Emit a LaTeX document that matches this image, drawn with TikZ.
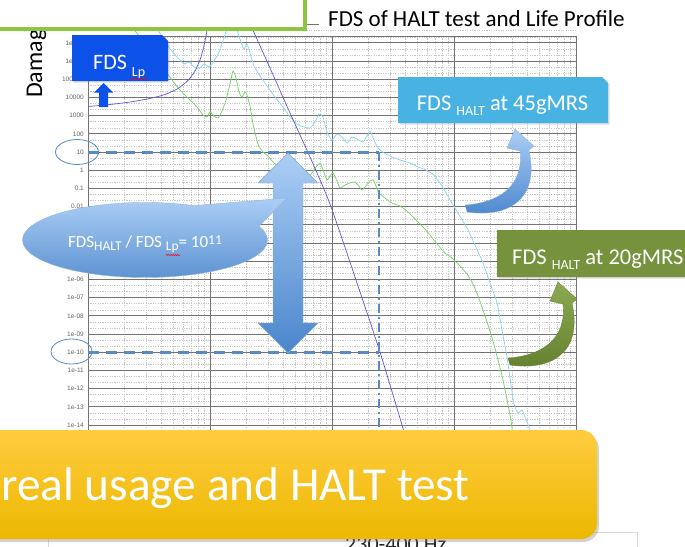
\documentclass[tikz,border=0pt]{standalone}
\usepackage{fontspec}
\setmainfont{Carlito}
\newfontfamily\axisfont{Liberation Sans}
\usetikzlibrary{shapes.geometric,shapes.callouts,shadows,decorations.pathmorphing}
\definecolor{lpblue}{RGB}{12,82,232}
\definecolor{halt45}{RGB}{72,178,226}
\definecolor{halt20}{RGB}{118,146,60}
\definecolor{hdrgreen}{RGB}{141,198,63}
\definecolor{guideblue}{RGB}{88,138,198}
\definecolor{cyancurve}{RGB}{140,214,240}
\definecolor{greencurve}{RGB}{118,214,100}
\definecolor{purplecurve}{RGB}{96,88,216}
\definecolor{arrowlight}{RGB}{172,206,245}
\definecolor{arrowdark}{RGB}{74,134,204}
\definecolor{bannertop}{RGB}{255,204,64}
\definecolor{bannerbot}{RGB}{236,184,0}
\definecolor{oliveLight}{RGB}{140,170,80}
\definecolor{oliveDark}{RGB}{100,128,48}
\begin{document}
\begin{tikzpicture}[x=1pt,y=-1pt,
  majorline/.style={draw=black!55, line width=0.7pt},
  minorline/.style={draw=black!22, line width=0.5pt, dash pattern=on 1.2pt off 1.2pt},
  axislabel/.style={font=\axisfont\fontsize{6.5}{7}\selectfont, text=black!60, anchor=east, inner sep=0pt},
  curve/.style={line width=0.75pt, smooth, tension=0.35},
  guide/.style={draw=guideblue, line width=3pt, dash pattern=on 11pt off 7pt},
  guidevert/.style={draw=guideblue, line width=2.6pt, dash pattern=on 9pt off 4pt on 2pt off 4pt},
  labelring/.style={ellipse, draw=guideblue, line width=0.8pt, inner sep=0pt},
  whitetext/.style={text=white, inner sep=0pt},
  boxshadow/.style={drop shadow={opacity=0.25, shadow xshift=1.5pt, shadow yshift=-1.5pt}},
  wavy/.style={draw=red, line width=0.5pt, decorate, decoration={snake, amplitude=0.6pt, segment length=2.2pt}}
]
\path[use as bounding box] (0,0) rectangle (685,546);
\clip (0,0) rectangle (685,546);
\fill[white] (0,0) rectangle (685,546);

% ---------- grid ----------
\foreach \d in {0,1,2,3}{
  \foreach \k in {2,...,9}{
    \draw[minorline] ({88+122*(\d+log10(\k))},36) -- ({88+122*(\d+log10(\k))},446);
  }
}
\foreach \n in {-7,...,15}{
  \draw[minorline] (88,{152+18.2*\n+6}) -- (576,{152+18.2*\n+6});
  \draw[minorline] (88,{152+18.2*\n+12.2}) -- (576,{152+18.2*\n+12.2});
}
\foreach \n in {-6,...,16}{
  \draw[majorline] (88,{152+18.2*\n}) -- (576,{152+18.2*\n});
}
\foreach \x in {88,210,332,454,576}{
  \draw[majorline] (\x,36) -- (\x,446);
}
\draw[majorline] (88,36) -- (576,36);
\draw[black!55, line width=0.6pt] (306,24) -- (319,24);

\foreach \n/\t in {-6/1e+07,-5/1e+06,-4/100000,-3/10000,-2/1000,-1/100,0/10,1/1,2/0.1,3/0.01,7/1e-06,8/1e-07,9/1e-08,10/1e-09,11/1e-10,12/1e-11,13/1e-12,14/1e-13,15/1e-14}{
  \node[axislabel] (lab\n) at (84,{152+18.2*\n}) {\t};
}

% ---------- curves ----------
\draw[curve, cyancurve] plot coordinates {(152,22) (158,30) (164,40) (171,50) (178,58) (184,64) (189,62) (194,67) (199,69) (204,64) (209,67) (214,61) (219,52) (224,38) (229,22) (233,18) (237,30) (241,42) (244,49) (247,44) (250,53) (254,66) (260,76) (267,86) (275,97) (283,107) (290,117) (297,124) (304,127) (310,128) (315,122) (319,114) (323,117) (327,132) (332,140) (337,134) (342,137) (347,143) (352,137) (357,139) (363,142) (367,136) (370,131) (374,140) (378,148) (384,153) (392,157) (400,160) (410,163) (418,167) (426,170) (434,175) (442,186) (450,200) (458,213) (467,228) (475,245) (483,263) (490,283) (497,303) (502,330) (507,357) (511,385) (514,404) (518,413) (522,410) (525,417) (528,424) (531,436) (533,446)};

\draw[curve, greencurve] plot coordinates {(128,22) (136,32) (145,45) (155,58) (165,70) (172,80) (180,90) (190,100) (197,107) (203,115) (207,117) (210,112) (214,116) (218,118) (222,111) (226,100) (230,84) (233,71) (236,78) (239,92) (242,97) (245,92) (247,95) (250,106) (253,124) (258,144) (263,152) (268,156) (273,162) (278,166) (284,168) (290,167) (297,169) (303,172) (308,177) (312,173) (316,167) (320,163) (323,170) (327,180) (330,176) (333,173) (337,181) (340,188) (345,185) (350,183) (355,182) (358,185) (362,190) (366,186) (370,181) (373,180) (376,186) (379,193) (385,198) (392,203) (400,206) (408,212) (415,219) (423,227) (430,235) (437,244) (445,253) (452,258) (460,266) (467,274) (473,284) (478,296) (483,310) (488,325) (493,341) (498,360) (503,380) (507,400) (510,415) (512,428) (513,446)};

\draw[curve, purplecurve, line width=0.7pt] plot coordinates {(88,106.5) (110,104.5) (130,102) (150,98.5) (165,94.5) (178,88.5) (188,80.5) (195,71) (200,60) (203.5,48) (206,36) (208,24) (209,15)};
\draw[curve, purplecurve, line width=0.7pt] plot coordinates {(248,18) (252,28) (270,68) (290,113) (310,157) (330,204) (355,277) (380,352) (405,435) (409,448)};

% ---------- guides ----------
\coordinate (g10L) at (88,152);
\coordinate (g10R) at (379,152);
\coordinate (gmL) at (88,352);
\coordinate (gmR) at (379,352);
\coordinate (vbot) at (379,446);
\draw[guide] (g10L) -- (g10R);
\draw[guide] (gmL) -- (gmR);
\draw[guidevert] (g10R) -- (vbot);
\node[labelring, minimum width=43pt, minimum height=25pt] (ring10) at (77,152) {};
\node[labelring, minimum width=41pt, minimum height=25pt] (ringm10) at (71.5,351.5) {};

% ---------- double arrow ----------
\path[top color=arrowlight, bottom color=arrowdark, draw=arrowdark!70, line width=0.4pt]
  (288,153) -- (318,183) -- (303,183) -- (303,323) -- (318,323) -- (288,353)
  -- (258,323) -- (273,323) -- (273,183) -- (258,183) -- cycle;

% ---------- ratio callout ----------
\node[ellipse callout, callout absolute pointer={(287,198)}, callout pointer arc=45,
      minimum width=245pt, minimum height=75pt, inner sep=0pt,
      top color=arrowlight, bottom color=arrowdark!90, draw=arrowdark!60, line width=0.4pt] (ratio) at (145,240) {};
\node[whitetext, anchor=base, font=\fontsize{17}{20}\selectfont] (ratiotext) at (145,247)
  {FDS\raisebox{-3.5pt}{\fontsize{13.5}{15}\selectfont HALT} / FDS \raisebox{-3.5pt}{\fontsize{13.5}{15}\selectfont Lp}= 10\raisebox{2.3pt}{\fontsize{13.5}{15}\selectfont 11}};
\draw[wavy] (166,255) -- (180,255);

% ---------- FDS Lp box ----------
\path[fill=lpblue, boxshadow] (72,35) -- (162,35) -- (168,41) -- (168,81) -- (72,81) -- cycle;
\node[whitetext, anchor=base west, font=\fontsize{22}{24}\selectfont] (lptext) at (93,69)
  {FDS \raisebox{-7pt}{\fontsize{14}{15}\selectfont Lp}};
\draw[wavy] (130,78.5) -- (147,78.5);
\fill[lpblue] (103.5,83) -- (113,92.5) -- (108,92.5) -- (108,107) -- (99,107) -- (99,92.5) -- (94,92.5) -- cycle;

% ---------- HALT 45 box ----------
\path[fill=halt45, boxshadow] (398,77) -- (602,77) -- (608,83) -- (608,123) -- (398,123) -- cycle;
\node[whitetext, anchor=base, font=\fontsize{22.5}{24}\selectfont] (h45text) at (502.5,110)
  {FDS \raisebox{-5pt}{\fontsize{14}{15}\selectfont HALT} at 45gMRS};
\path[top color=arrowlight, bottom color=arrowdark, draw=arrowdark!60, line width=0.3pt]
  (467,212) .. controls (508,218) and (540,200) .. (529,150) -- (534,146) -- (515,129)
  -- (507,148) -- (520,151) .. controls (524,188) and (496,203) .. (465,205) -- cycle;

% ---------- HALT 20 box ----------
\path[fill=halt20, boxshadow] (497,230) -- (701,230) -- (707,236) -- (707,277) -- (497,277) -- cycle;
\node[whitetext, anchor=base west, font=\fontsize{22.5}{24}\selectfont] (h20text) at (512,264)
  {FDS \raisebox{-5pt}{\fontsize{14}{15}\selectfont HALT} at 20gMRS};
\begin{scope}[shift={(43,153)}]
\path[top color=oliveLight, bottom color=oliveDark, draw=oliveDark, line width=0.3pt]
  (467,212) .. controls (508,218) and (540,200) .. (529,150) -- (534,146) -- (515,129)
  -- (507,148) -- (520,151) .. controls (524,188) and (496,203) .. (465,205) -- cycle;
\end{scope}

% ---------- title and axis name ----------
\node[anchor=base west, inner sep=0pt, font=\fontsize{23}{25}\selectfont] (title) at (328,27)
  {FDS of HALT test and Life Profile};
\node[rotate=90, anchor=base west, inner sep=0pt, font=\fontsize{24}{26}\selectfont] (damage) at (42,98)
  {Damage};

% ---------- header box ----------
\path[draw=hdrgreen, line width=3.5pt, fill=white, drop shadow={opacity=0.3, shadow xshift=1.5pt, shadow yshift=-2pt}]
  (-10,-10) rectangle (305,29);

% ---------- lower frame and banner ----------
\draw[black!15, line width=0.6pt] (48,560) -- (48,532) -- (637,532) -- (637,560);
\node[anchor=base west, inner sep=0pt, text=black!85, font=\fontsize{22}{24}\selectfont] (freq) at (345,551) {230-400 Hz};
\path[top color=bannertop, bottom color=bannerbot, rounded corners=16pt,
      drop shadow={opacity=0.35, shadow xshift=2pt, shadow yshift=-3pt}]
  (-30,430) rectangle (597,539);
\node[anchor=base east, whitetext, font=\fontsize{47.3}{50}\selectfont] (banner) at (470,500)
  {real usage and HALT test};
\end{tikzpicture}
\end{document}
